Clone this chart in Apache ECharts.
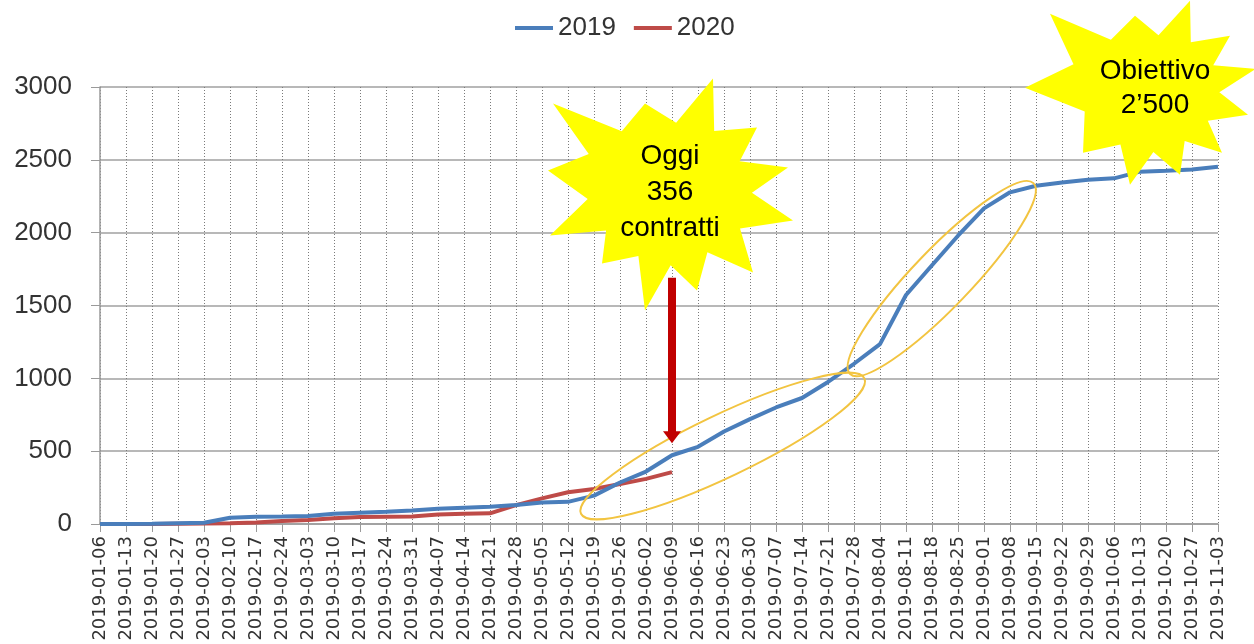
<!DOCTYPE html>
<html>
<head>
<meta charset="utf-8">
<script src="https://cdn.jsdelivr.net/npm/echarts@6/dist/echarts.min.js"></script>
<style>
html,body{margin:0;padding:0;background:#fff;}
#c{width:1254px;height:644px;}
</style>
</head>
<body>
<div id="c"></div>
<script>
const categories = ['2019-01-06','2019-01-13','2019-01-20','2019-01-27','2019-02-03','2019-02-10','2019-02-17','2019-02-24','2019-03-03','2019-03-10','2019-03-17','2019-03-24','2019-03-31','2019-04-07','2019-04-14','2019-04-21','2019-04-28','2019-05-05','2019-05-12','2019-05-19','2019-05-26','2019-06-02','2019-06-09','2019-06-16','2019-06-23','2019-06-30','2019-07-07','2019-07-14','2019-07-21','2019-07-28','2019-08-04','2019-08-11','2019-08-18','2019-08-25','2019-09-01','2019-09-08','2019-09-15','2019-09-22','2019-09-29','2019-10-06','2019-10-13','2019-10-20','2019-10-27','2019-11-03'];
const values2019 = [0,0,2,5,8,43,50,52,55,70,77,84,92,104,112,118,130,147,152,195,285,360,472,530,635,720,800,865,975,1100,1235,1572,1776,1979,2167,2277,2322,2345,2363,2373,2419,2425,2434,2452];
const values2020 = [0,0,0,2,3,5,10,20,28,40,48,50,52,65,70,73,130,176,218,240,275,310,356];
const seriesNames = ['2019','2020'];
const yTicks = [0,500,1000,1500,2000,2500,3000];
const noteToday = 'Oggi\n356\ncontratti';
const noteGoal = 'Obiettivo\n2\u2019500';

const chart = echarts.init(document.getElementById('c'), null, {renderer:'canvas'});
const option = {
  animation:false,
  backgroundColor:'#ffffff',
  legend:{
    left:510, top:10,
    icon:'rect', itemWidth:38, itemHeight:4, itemGap:18,
    textStyle:{fontFamily:'Liberation Sans', fontSize:26, color:'#333'},
    data:seriesNames
  },
  grid:{left:100, right:36, top:87, bottom:120},
  xAxis:{
    type:'category', data:categories, boundaryGap:false,
    axisLine:{lineStyle:{color:'#9a9a9a', width:1.5}},
    axisTick:{show:true, length:8, alignWithLabel:true, lineStyle:{color:'#9a9a9a'}},
    axisLabel:{interval:0, rotate:90, margin:12, fontFamily:'DejaVu Sans', fontSize:18, color:'#333'},
    splitLine:{show:true, lineStyle:{color:'#7a7a7a', type:[1,2], width:1}}
  },
  yAxis:{
    type:'value', min:yTicks[0], max:yTicks[yTicks.length-1], interval:500,
    axisLine:{show:true, lineStyle:{color:'#9a9a9a', width:1.5}},
    axisTick:{show:true, length:9, lineStyle:{color:'#9a9a9a'}},
    axisLabel:{margin:28, fontFamily:'Liberation Sans', fontSize:26, color:'#333', formatter:function(v){return String(v);}},
    splitLine:{show:true, lineStyle:{color:'#a0a0a0', width:1.5}}
  },
  series:[
    {name:seriesNames[0], type:'line', data:values2019, showSymbol:false, symbol:'none',
     lineStyle:{color:'#4A7EBB', width:4}, itemStyle:{color:'#4A7EBB'}, z:3},
    {name:seriesNames[1], type:'line', data:values2020, showSymbol:false, symbol:'none',
     lineStyle:{color:'#BE4B48', width:4}, itemStyle:{color:'#BE4B48'}, z:2}
  ]
};
chart.setOption(option);

// pixel of a (possibly fractional) category position and a value
function px(i, v){
  const i0 = Math.floor(i), f = i - i0;
  const p0 = chart.convertToPixel({xAxisIndex:0, yAxisIndex:0}, [i0, v]);
  if (f === 0) return p0;
  const p1 = chart.convertToPixel({xAxisIndex:0, yAxisIndex:0}, [i0+1, v]);
  return [p0[0] + (p1[0]-p0[0])*f, p0[1]];
}

function starPoints(cx, cy, tips, k){
  const pts = [];
  for (let i=0;i<tips.length;i++){
    const a = tips[i], b = tips[(i+1)%tips.length];
    pts.push([cx+a[0], cy+a[1]]);
    const mx = (a[0]+b[0])/2, my = (a[1]+b[1])/2;
    pts.push([cx+mx*k, cy+my*k]);
  }
  return pts;
}

// anchor positions from the axes
const todayTop = px(22, 1690);
const todayTip = px(22, 555);
const star1c = [px(22, 2290)[0]-2, px(22, 2290)[1]];
const star2c = [px(40, 2960)[0]+10, px(40, 2960)[1]];
const e1a = px(18.5, 70), e1b = px(29.4, 1000);
const e2a = px(28.85, 1030), e2b = px(35.9, 2340);

const tips1 = [[-117,-87],[-25,-87],[43,-112],[87,-63],[118,-23],[123,30],[83,82],[27,100],[-25,120],[-68,73],[-120,45],[-122,-20]];
const tips2 = [[-100,-79],[-15,-77],[40,-92],[80,-57],[106,-24],[98,22],[72,60],[30,82],[-20,92],[-67,60],[-125,-5]];

function ellipseFrom(a, b, ry){
  const cx=(a[0]+b[0])/2, cy=(a[1]+b[1])/2;
  const dx=b[0]-a[0], dy=b[1]-a[1];
  const rx=Math.sqrt(dx*dx+dy*dy)/2;
  const ang=Math.atan2(-dy, dx);
  return {type:'ellipse', x:cx, y:cy, rotation:ang, shape:{cx:0, cy:0, rx:rx, ry:ry},
          style:{fill:'none', stroke:'#F2C440', lineWidth:2}, z:100, silent:true};
}

const ax = todayTop[0];
chart.setOption({
  graphic:[
    ellipseFrom(e1a, e1b, 31),
    ellipseFrom(e2a, e2b, 29),
    {type:'polygon', shape:{points:starPoints(star1c[0], star1c[1], tips1, 0.68)},
     style:{fill:'#FFFF00', stroke:'none'}, z:101, silent:true},
    {type:'text', x:star1c[0], y:star1c[1]+2,
     style:{text:noteToday, fill:'#000', font:'28px "Liberation Sans"', lineHeight:36, align:'center', verticalAlign:'middle'}, z:102, silent:true},
    {type:'polygon', shape:{points:starPoints(star2c[0], star2c[1], tips2, 0.68)},
     style:{fill:'#FFFF00', stroke:'none'}, z:101, silent:true},
    {type:'text', x:star2c[0]+5, y:star2c[1]-5,
     style:{text:noteGoal, fill:'#000', font:'28px "Liberation Sans"', lineHeight:34, align:'center', verticalAlign:'middle'}, z:102, silent:true},
    {type:'rect', shape:{x:ax-4, y:todayTop[1], width:8, height:todayTip[1]-todayTop[1]-10},
     style:{fill:'#C00000'}, z:103, silent:true},
    {type:'polygon', shape:{points:[[ax-9, todayTip[1]-12],[ax+9, todayTip[1]-12],[ax, todayTip[1]]]},
     style:{fill:'#C00000'}, z:103, silent:true}
  ]
});
</script>
</body>
</html>
